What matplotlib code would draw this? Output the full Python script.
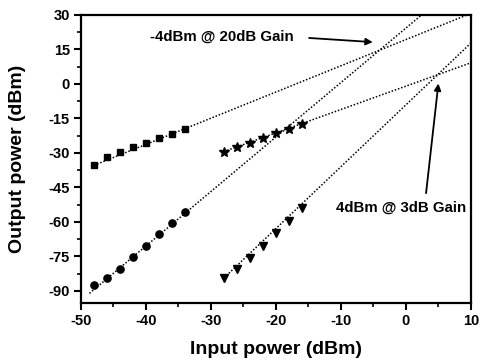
import numpy as np
import matplotlib
matplotlib.use("Agg")
import matplotlib.pyplot as plt

plt.rcParams['font.family'] = ['Liberation Sans', 'DejaVu Sans']
plt.rcParams['font.weight'] = 'bold'
plt.rcParams['axes.unicode_minus'] = False

# Data
x_low = [-48, -46, -44, -42, -40, -38, -36, -34]
sq_y = [-35.4, -31.7, -29.5, -27.6, -25.6, -23.7, -21.8, -19.8]
ci_y = [-87.5, -84.4, -80.3, -75.4, -70.4, -65.4, -60.6, -55.6]
x_high = [-28, -26, -24, -22, -20, -18, -16]
st_y = [-29.4, -27.6, -25.5, -23.6, -21.5, -19.7, -17.6]
tr_y = [-84.6, -80.5, -75.7, -70.6, -64.8, -59.8, -53.8]

# Extrapolation lines: (x_start, slope, intercept)
line_sq = (-48.0, 1.14, 19.3)
line_ci = (-48.7, 2.37, 24.31)
line_st = (-28.0, 1.016, -0.96)
line_tr = (-28.0, 2.69, -9.1)

xticks = [-50, -40, -30, -20, -10, 0, 10]
yticks = [30, 15, 0, -15, -30, -45, -60, -75, -90]

fig = plt.figure(figsize=(4.81, 3.62), dpi=100)
ax = fig.add_axes([0.1684, 0.163, 0.8106, 0.7956])

for x0, m, b in (line_sq, line_ci, line_st, line_tr):
    xs = np.linspace(x0, 12, 200)
    ax.plot(xs, m * xs + b, linestyle=(0, (1, 1.2)), color='black', lw=1.1)

ax.plot(x_low, sq_y, 's', color='black', ms=5.0)
ax.plot(x_low, ci_y, 'o', color='black', ms=5.2)
ax.plot(x_high, st_y, '*', color='black', ms=7.5)
ax.plot(x_high, tr_y, 'v', color='black', ms=6.3)

ax.set_xlim(-50, 10)
ax.set_ylim(-95.3, 30)
ax.set_xticks(xticks)
ax.set_yticks(yticks)
ax.set_xticks(np.arange(-45, 10, 10), minor=True)
ax.set_yticks(np.arange(-82.5, 30, 15), minor=True)
ax.tick_params(which='major', direction='out', length=5, width=1.5, labelsize=10.5, pad=3)
ax.tick_params(which='minor', direction='out', length=3, width=1.2)
for lab in ax.get_xticklabels() + ax.get_yticklabels():
    lab.set_fontweight('bold')
for s in ax.spines.values():
    s.set_linewidth(1.6)

ax.set_xlabel('Input power (dBm)', fontsize=14, fontweight='bold', labelpad=9)
ax.set_ylabel('Output power (dBm)', fontsize=14, fontweight='bold')
ax.yaxis.set_label_coords(-0.141, 0.5)

ax.text(-28.3, 20.4, '-4dBm @ 20dB Gain', fontsize=10.8, fontweight='bold',
        ha='center', va='center')
ax.annotate('', xy=(-5.1, 18.2), xytext=(-14.9, 20.0),
            arrowprops=dict(arrowstyle='-|>', color='black', lw=1.3,
                            shrinkA=0, shrinkB=0, mutation_scale=10))
ax.annotate('', xy=(5.0, 0.2), xytext=(3.1, -47.5),
            arrowprops=dict(arrowstyle='-|>', color='black', lw=1.3,
                            shrinkA=0, shrinkB=0, mutation_scale=10))
ax.text(-0.8, -54.0, '4dBm @ 3dB Gain', fontsize=10.8, fontweight='bold',
        ha='center', va='center')

fig.savefig('out.png', dpi=100)
